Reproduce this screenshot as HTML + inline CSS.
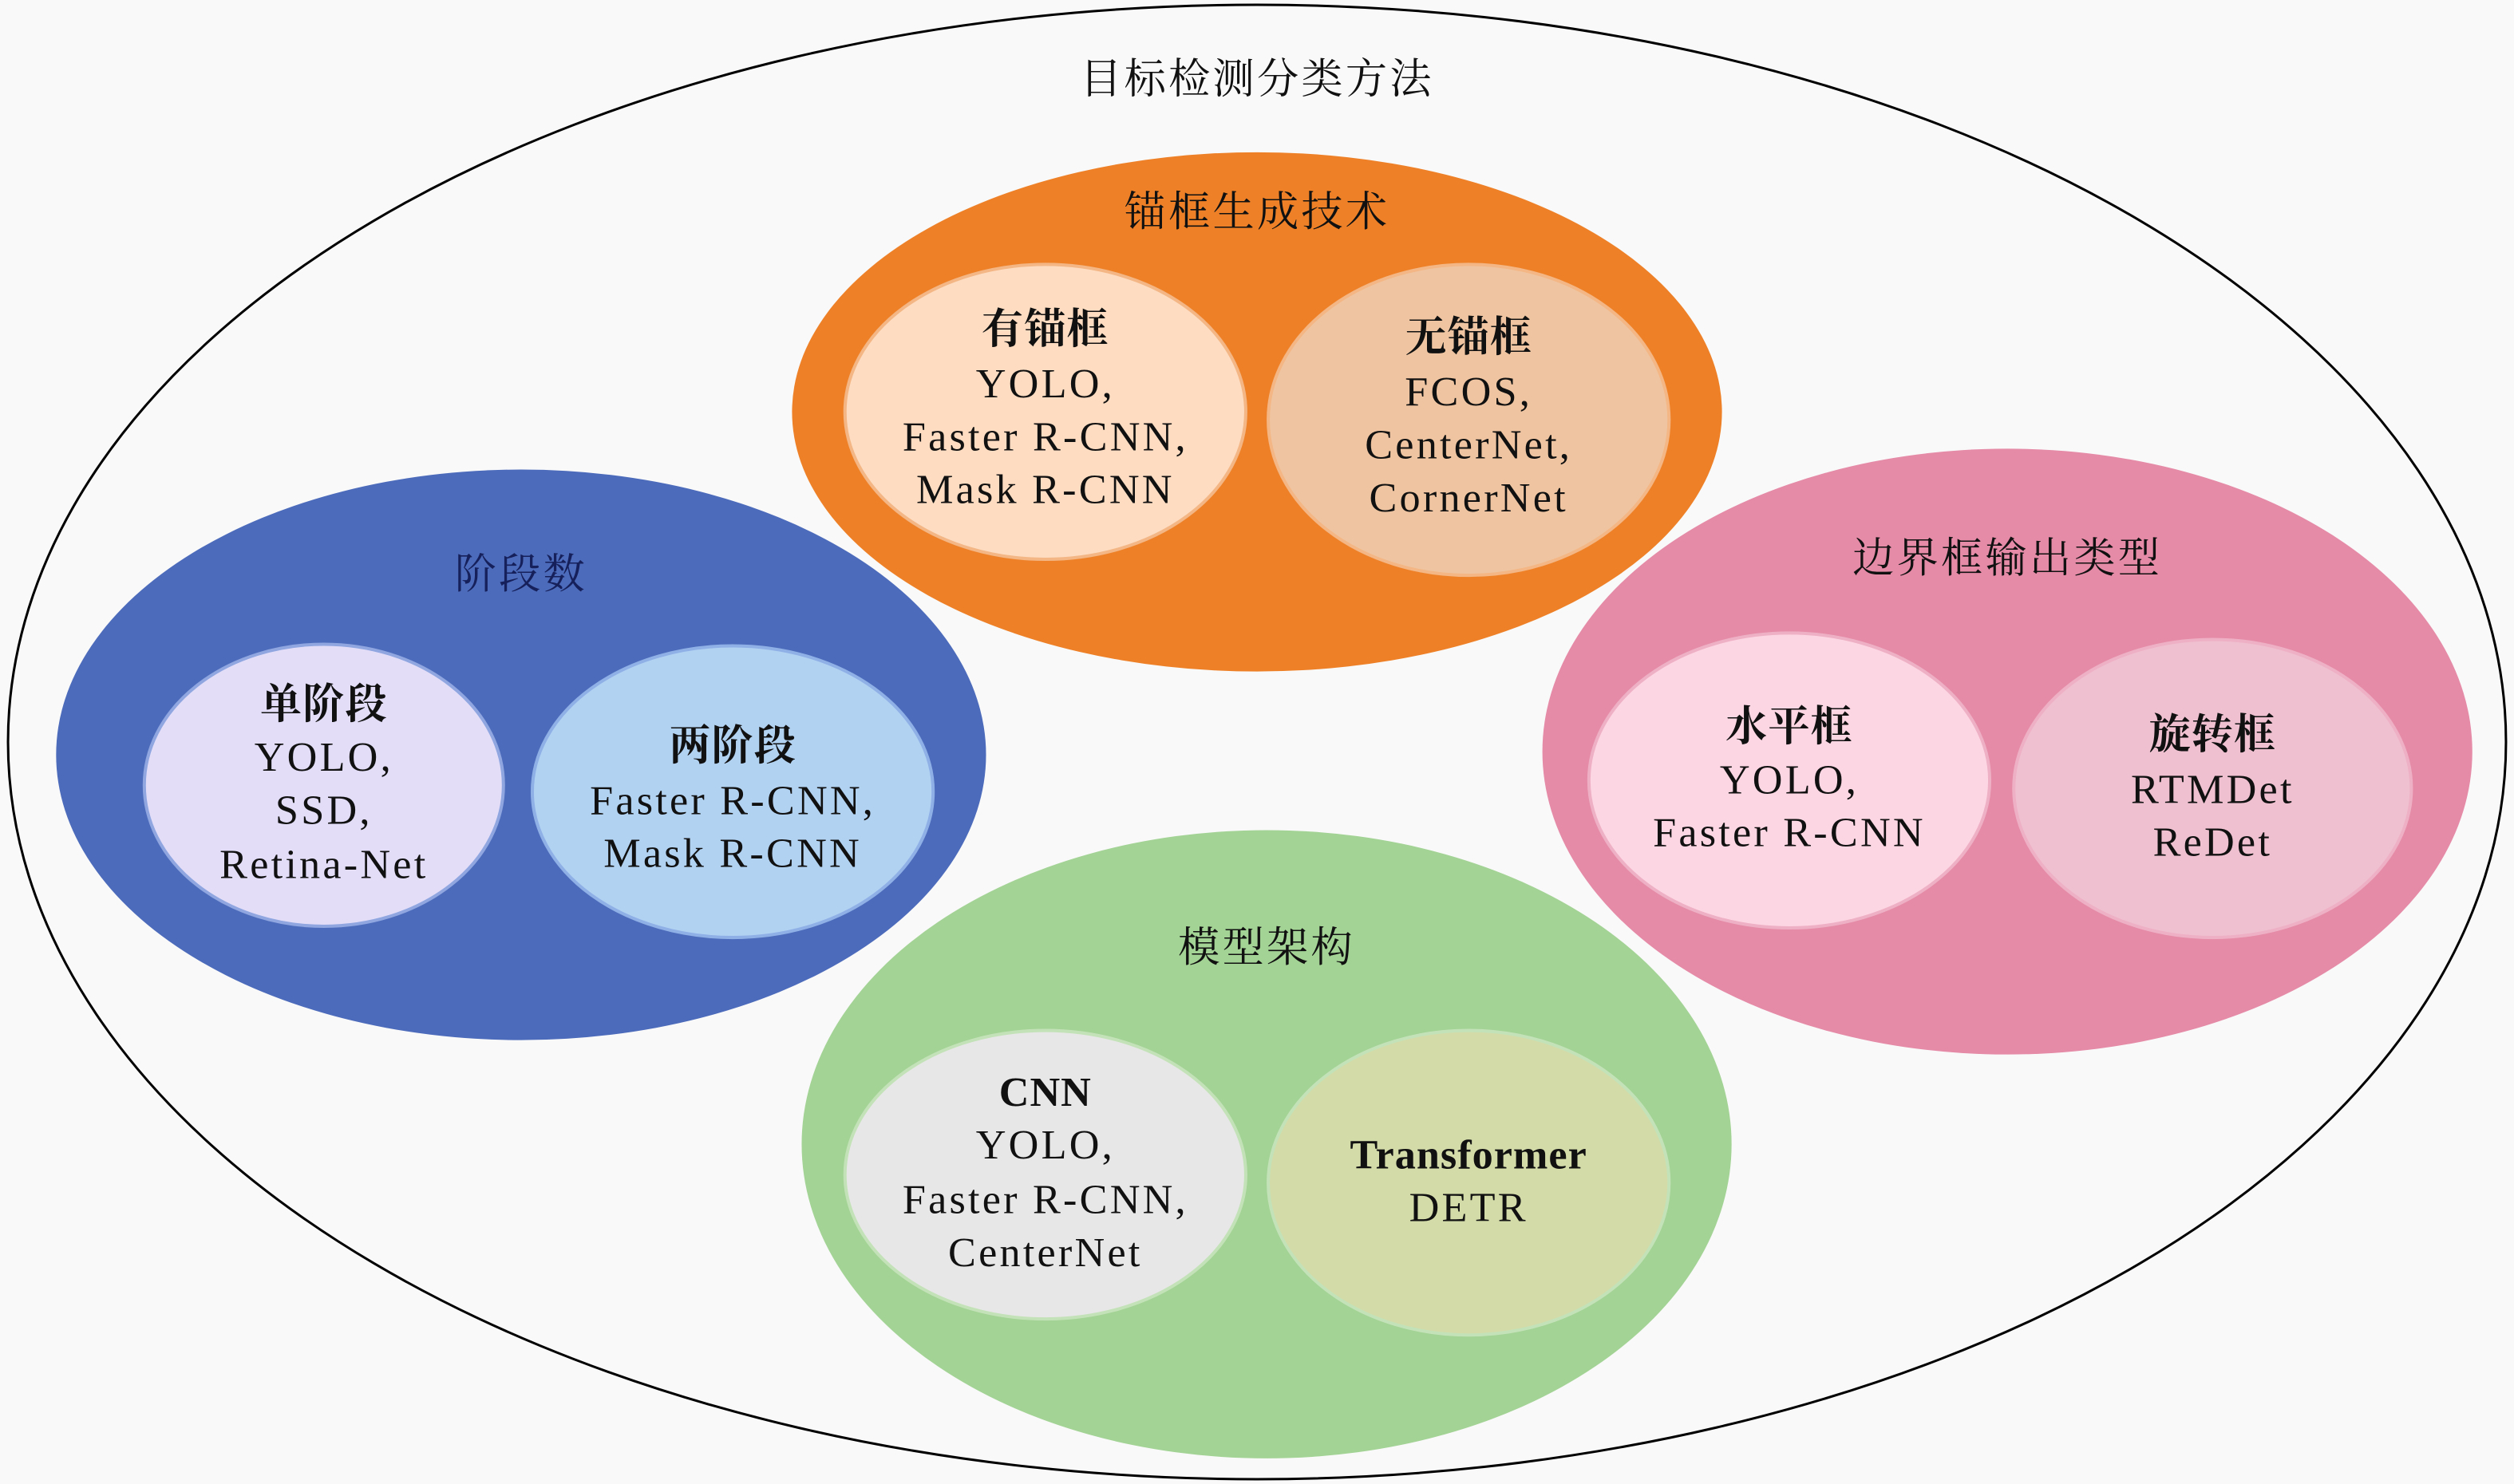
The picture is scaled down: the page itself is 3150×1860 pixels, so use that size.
<!DOCTYPE html>
<html><head><meta charset="utf-8"><style>
html,body{margin:0;padding:0;background:#f9f9f9;}
svg{display:block;}
text{font-family:"Liberation Serif","Noto Serif CJK SC","Noto Sans CJK SC",serif;font-size:26px;letter-spacing:1.6px;text-anchor:middle;fill:#111;}
.b{font-weight:bold;letter-spacing:0.5px;}
</style></head><body>
<svg width="3150" height="1860" viewBox="0 0 1568 926" preserveAspectRatio="none" xmlns="http://www.w3.org/2000/svg">
<rect width="1568" height="926" fill="#f9f9f9"/>
<ellipse cx="784" cy="463" rx="779" ry="460" fill="none" stroke="#000" stroke-width="1.5"/>
<text x="784" y="58">目标检测分类方法</text>

<ellipse cx="784" cy="257" rx="290" ry="162" fill="#ee8128"/>
<text x="784" y="141">锚框生成技术</text>
<ellipse cx="652" cy="257" rx="125" ry="92" fill="#fddcc1" stroke="#f3b684" stroke-width="2"/>
<text x="652" y="214" class="b">有锚框</text>
<text x="652" y="248">YOLO,</text>
<text x="652" y="281">Faster R-CNN,</text>
<text x="652" y="314">Mask R-CNN</text>
<ellipse cx="916" cy="262" rx="125" ry="97" fill="#efc5a1" stroke="#f3b684" stroke-width="2"/>
<text x="916" y="219" class="b">无锚框</text>
<text x="916" y="253">FCOS,</text>
<text x="916" y="286">CenterNet,</text>
<text x="916" y="319">CornerNet</text>

<ellipse cx="325" cy="471" rx="290" ry="178" fill="#4c6bbb"/>
<text x="325" y="367" style="fill:#16205a">阶段数</text>
<ellipse cx="202" cy="490" rx="112" ry="88" fill="#e3ddf8" stroke="#8fa6e0" stroke-width="2"/>
<text x="202" y="448" class="b">单阶段</text>
<text x="202" y="481">YOLO,</text>
<text x="202" y="514">SSD,</text>
<text x="202" y="548">Retina-Net</text>
<ellipse cx="457" cy="494" rx="125" ry="91" fill="#b2d2f2" stroke="#8fb0e6" stroke-width="2"/>
<text x="457" y="474" class="b">两阶段</text>
<text x="457" y="508">Faster R-CNN,</text>
<text x="457" y="541">Mask R-CNN</text>

<ellipse cx="1252" cy="469" rx="290" ry="189" fill="#e58aa7"/>
<text x="1252" y="357">边界框输出类型</text>
<ellipse cx="1116" cy="487" rx="125" ry="92" fill="#fdd6e3" stroke="#eeb0c4" stroke-width="2"/>
<text x="1116" y="462" class="b">水平框</text>
<text x="1116" y="495">YOLO,</text>
<text x="1116" y="528">Faster R-CNN</text>
<ellipse cx="1380" cy="492" rx="124" ry="93" fill="#efc0d0" stroke="#eeb0c4" stroke-width="2"/>
<text x="1380" y="467" class="b">旋转框</text>
<text x="1380" y="501">RTMDet</text>
<text x="1380" y="534">ReDet</text>

<ellipse cx="790" cy="714" rx="290" ry="196" fill="#a3d395"/>
<text x="790" y="600">模型架构</text>
<ellipse cx="652" cy="733" rx="125" ry="90" fill="#e7e7e7" stroke="#c4e2b8" stroke-width="2"/>
<text x="652" y="690" class="b">CNN</text>
<text x="652" y="723">YOLO,</text>
<text x="652" y="757">Faster R-CNN,</text>
<text x="652" y="790">CenterNet</text>
<ellipse cx="916" cy="738" rx="125" ry="95" fill="#d3dba8" stroke="#c4e2b8" stroke-width="2"/>
<text x="916" y="729" class="b">Transformer</text>
<text x="916" y="762">DETR</text>
</svg>
</body></html>
